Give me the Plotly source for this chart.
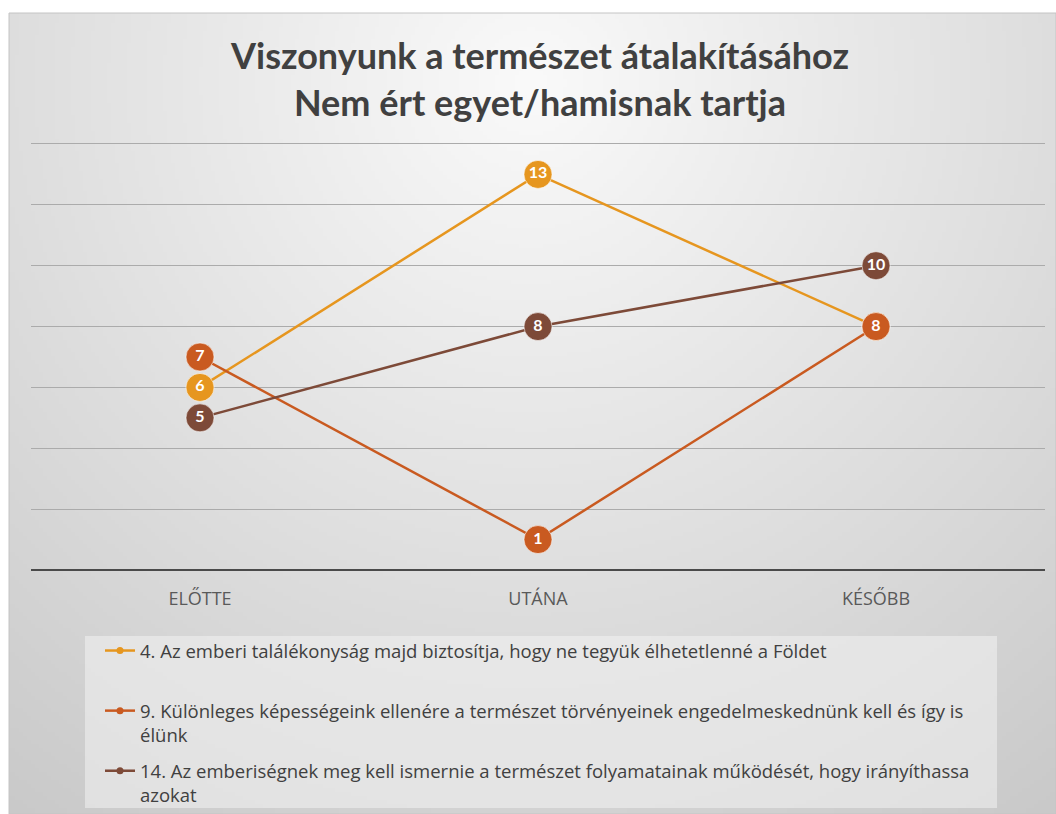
import base64, struct, zlib
import numpy as np
import plotly.graph_objects as go

# ---- data ----
categories = ["ELŐTTE", "UTÁNA", "KÉSŐBB"]
series_names = [
    "4. Az emberi találékonyság majd biztosítja, hogy ne tegyük élhetetlenné a Földet<br> ",
    "9. Különleges képességeink ellenére a természet törvényeinek engedelmeskednünk kell és így is<br>élünk",
    "14. Az emberiségnek meg kell ismernie a természet folyamatainak működését, hogy irányíthassa<br>azokat",
]
values_4 = [6, 13, 8]
values_9 = [7, 1, 8]
values_14 = [5, 8, 10]
series_values = [values_4, values_9, values_14]
colors = ["#E6961F", "#C95A20", "#7D4A38"]

title_text = "Viszonyunk a természet átalakításához<br>Nem ért egyet/hamisnak tartja"

W, H = 1056, 814
TFONT = "Lato, 'Open Sans', sans-serif"
LFONT = "'Open Sans', Lato, sans-serif"

def PX(x):
    return x / W

def PY(y):
    return 1 - y / H

YMAX = 14.1
Y0_PX = 570
Y_TOP_PX = 570 - (570 - 144) * YMAX / 14

# ---- background gradient image (styling only) ----
def gradient_png(w, h):
    ys, xs = np.mgrid[0:h, 0:w].astype(float)
    px = xs * (1047 / w) + 9
    py = ys * (801 / h) + 13
    r = np.sqrt(((px - 528) / 700) ** 2 + ((py - 80) / 700) ** 2)
    g = np.clip(250 - 38 * r, 190, 252).astype(np.uint8)
    raw = b"".join(b"\x00" + g[i].tobytes() for i in range(h))
    def chunk(t, d):
        c = struct.pack(">I", len(d)) + t + d
        return c + struct.pack(">I", zlib.crc32(t + d) & 0xFFFFFFFF)
    png = b"\x89PNG\r\n\x1a\n" + chunk(b"IHDR", struct.pack(">IIBBBBB", w, h, 8, 0, 0, 0, 0))
    png += chunk(b"IDAT", zlib.compress(raw, 9)) + chunk(b"IEND", b"")
    return "data:image/png;base64," + base64.b64encode(png).decode()

fig = go.Figure()

for name, vals, col in zip(series_names, series_values, colors):
    fig.add_trace(go.Scatter(
        x=categories, y=vals, mode="lines+markers+text",
        text=[str(v) for v in vals], textposition="middle center",
        textfont=dict(family=TFONT, size=16, color="white", weight="bold"),
        line=dict(color=col, width=2.5),
        marker=dict(size=28, color=col, line=dict(color="rgba(255,255,255,0.55)", width=1)),
        showlegend=False, hoverinfo="skip",
    ))

for i, (name, col) in enumerate(zip(series_names, colors)):
    fig.add_trace(go.Scatter(
        x=[None], y=[None], mode="lines+markers", name=name,
        line=dict(color=col, width=2.5), marker=dict(size=7, color=col),
        legendgroup=f"g{i}",
    ))

fig.update_layout(
    width=W, height=H,
    margin=dict(l=0, r=0, t=0, b=0, autoexpand=False),
    paper_bgcolor="white",
    plot_bgcolor="rgba(0,0,0,0)",
    title=dict(text=title_text, x=PX(540), xanchor="center", y=PY(69), yanchor="middle",
               font=dict(family=TFONT, size=36, color="#404040", weight="bold")),
    xaxis=dict(domain=[PX(31), PX(1045)], range=[-0.5, 2.5], showgrid=False, zeroline=False,
               showline=False, ticks="", tickfont=dict(family=LFONT, size=18, color="#595959"),
               ticklabelstandoff=16, fixedrange=True, automargin=False),
    yaxis=dict(domain=[PY(Y0_PX), PY(Y_TOP_PX)], range=[0, YMAX], dtick=2, tick0=0,
               showticklabels=False, showgrid=True, gridcolor="#ababab", gridwidth=1,
               zeroline=True, zerolinecolor="#4a4a4a", zerolinewidth=1.5, showline=False,
               fixedrange=True, automargin=False),
    legend=dict(x=PX(100), y=PY(632), xanchor="left", yanchor="top",
                bgcolor="rgba(0,0,0,0)", valign="top", tracegroupgap=9,
                font=dict(family=LFONT, size=18.5, color="#404040"), itemwidth=30),
    images=[dict(source=gradient_png(262, 200), xref="paper", yref="paper",
                 x=PX(9), y=PY(13), sizex=1 - PX(9), sizey=PY(13),
                 xanchor="left", yanchor="top", sizing="stretch", layer="below")],
    shapes=[
        dict(type="rect", xref="paper", yref="paper", x0=PX(9), x1=1.0,
             y0=0, y1=PY(13), line=dict(color="#c4c4c4", width=1),
             fillcolor="rgba(0,0,0,0)", layer="below"),
        # legend box background
        dict(type="rect", xref="paper", yref="paper", x0=PX(85), x1=PX(997),
             y0=PY(808), y1=PY(636), line=dict(width=0),
             fillcolor="rgba(243,243,243,0.55)", layer="below"),
    ],
)

post = (
    "document.body.style.margin='0';"
    "document.body.style.overflow='hidden';"
)

fig.write_html("out.html", config={"displayModeBar": False}, post_script=post)
